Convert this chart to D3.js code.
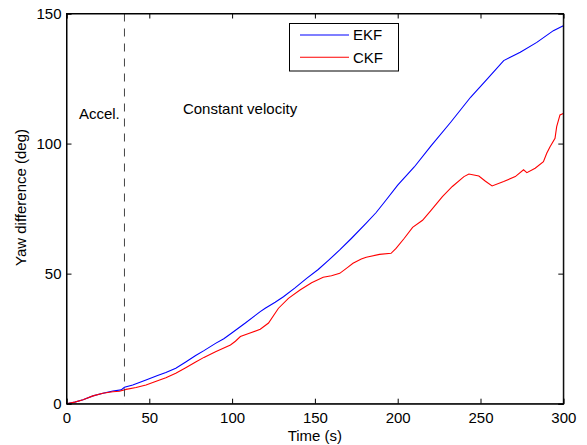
<!DOCTYPE html>
<html><head><meta charset="utf-8">
<script src="https://cdn.jsdelivr.net/npm/d3@7"></script>
<style>body{margin:0;background:#fff}svg{display:block}text{font-family:"Liberation Sans",Arial,sans-serif;fill:#000}</style>
</head><body>
<script>
const ekfTime = [0,5,10,16,22,28,33,35,40,48,55,60,66,72,78,83,90,95,100,108,117,120,126,131,138,145,152,158,165,172,181,187,193,200,210,220,232,244,254,264,274,284,294,300];
const ekfValue = [0,0.6,1.5,3.0,4.0,4.9,5.3,6.3,7.2,9.1,10.8,12.0,13.6,16.0,18.5,20.4,23.2,25.0,27.3,31.0,35.4,36.7,39.0,41.1,44.5,48.2,51.6,55.0,59.1,63.5,69.4,73.5,78.3,84.0,91.0,99.0,108.2,117.8,124.8,131.9,135.1,138.9,143.4,145.3];
const ckfTime = [0,5,10,16,22,28,32,36,42,48,55,60,66,72,78,83,90,99,102,105,110,117,122,128,134,141,148,155,160,165,170,173,178,181,189,196,199,204,209,215,220,227,233,240,243,249,253,257,264,271,276,278,283,288,290,292,295,296,298,300];
const ckfValue = [0,0.6,1.5,3.0,4.0,4.6,4.8,5.5,6.2,7.2,8.8,10.0,11.7,13.8,16.0,17.8,20.0,22.6,24.0,25.8,27.0,28.6,31.0,36.7,40.5,43.7,46.5,48.6,49.2,50.1,52.5,54.0,55.6,56.3,57.4,57.8,59.7,63.6,67.8,70.5,74.2,79.6,83.5,87.3,88.3,87.5,85.5,83.7,85.4,87.3,89.9,88.8,90.5,93.0,96.3,98.8,102.0,106.5,111.0,111.6];
const xTicks = [0,50,100,150,200,250,300];
const yTicks = [0,50,100,150];
const seriesNames = ["EKF","CKF"];
const seriesColors = ["#0000ff","#ff0000"];
const phaseBoundary = 35;
const annotations = [{text:"Accel.", t:7.5, v:109.5},{text:"Constant velocity", t:70.3, v:111.5}];

const W=587,H=445, L=66.5, R=563.3, T=13.5, B=403.7;
const svg=d3.select("body").append("svg").attr("width",W).attr("height",H);
const x=d3.scaleLinear().domain([0,300]).range([L,R]);
const y=d3.scaleLinear().domain([0,150]).range([B,T]);
const fs="15px";

// data lines
const series=[{t:ekfTime,v:ekfValue},{t:ckfTime,v:ckfValue}];
const line=d3.line().x(d=>x(d[0])).y(d=>y(d[1]));
series.forEach((s,i)=>{
  svg.append("path").datum(s.t.map((t,j)=>[t,s.v[j]]))
    .attr("d",line).attr("fill","none").attr("stroke",seriesColors[i]).attr("stroke-width",1.1);
});

// dashed boundary
svg.append("line").attr("x1",x(phaseBoundary)).attr("x2",x(phaseBoundary)).attr("y1",y(150)).attr("y2",y(0))
  .attr("stroke","#444").attr("stroke-width",1).attr("stroke-dasharray","8,7");

// axes
const gx=svg.append("g").attr("transform",`translate(0,${B})`).call(d3.axisBottom(x).tickValues(xTicks).tickSize(-5).tickPadding(9).tickFormat(d3.format("d")));
const gxt=svg.append("g").attr("transform",`translate(0,${T})`).call(d3.axisTop(x).tickValues(xTicks).tickSize(-5).tickFormat(""));
const gy=svg.append("g").attr("transform",`translate(${L},0)`).call(d3.axisLeft(y).tickValues(yTicks).tickSize(-5).tickPadding(5).tickFormat(d3.format("d")));
const gyr=svg.append("g").attr("transform",`translate(${R},0)`).call(d3.axisRight(y).tickValues(yTicks).tickSize(-5).tickFormat(""));
[gx,gxt,gy,gyr].forEach(g=>{
  g.select(".domain").attr("stroke","#000").attr("stroke-width",1);
  g.selectAll(".tick line").attr("stroke","#000");
  g.selectAll("text").style("font-size",fs).attr("font-family","Liberation Sans, Arial, sans-serif").attr("fill","#000");
});
svg.append("rect").attr("x",L).attr("y",T).attr("width",R-L).attr("height",B-T).attr("fill","none").attr("stroke","#000");

// labels
svg.append("text").attr("x",(L+R)/2).attr("y",441).attr("text-anchor","middle").style("font-size",fs).text("Time (s)");
svg.append("text").attr("transform",`translate(26,197.5) rotate(-90)`).attr("text-anchor","middle").style("font-size",fs).text("Yaw difference (deg)");

annotations.forEach(a=>{
  svg.append("text").attr("x",x(a.t)).attr("y",y(a.v)).style("font-size",fs).text(a.text);
});

// legend
const lg=svg.append("g");
lg.append("rect").attr("x",289.5).attr("y",23.5).attr("width",109).attr("height",47.5).attr("fill","#fff").attr("stroke","#000");
seriesNames.forEach((n,i)=>{
  const ly=35+i*22.3;
  lg.append("line").attr("x1",300).attr("x2",349).attr("y1",ly).attr("y2",ly).attr("stroke",seriesColors[i]).attr("stroke-width",1.1);
  lg.append("text").attr("x",353).attr("y",ly).attr("dy","0.35em").style("font-size",fs).text(n);
});
</script>
</body></html>
